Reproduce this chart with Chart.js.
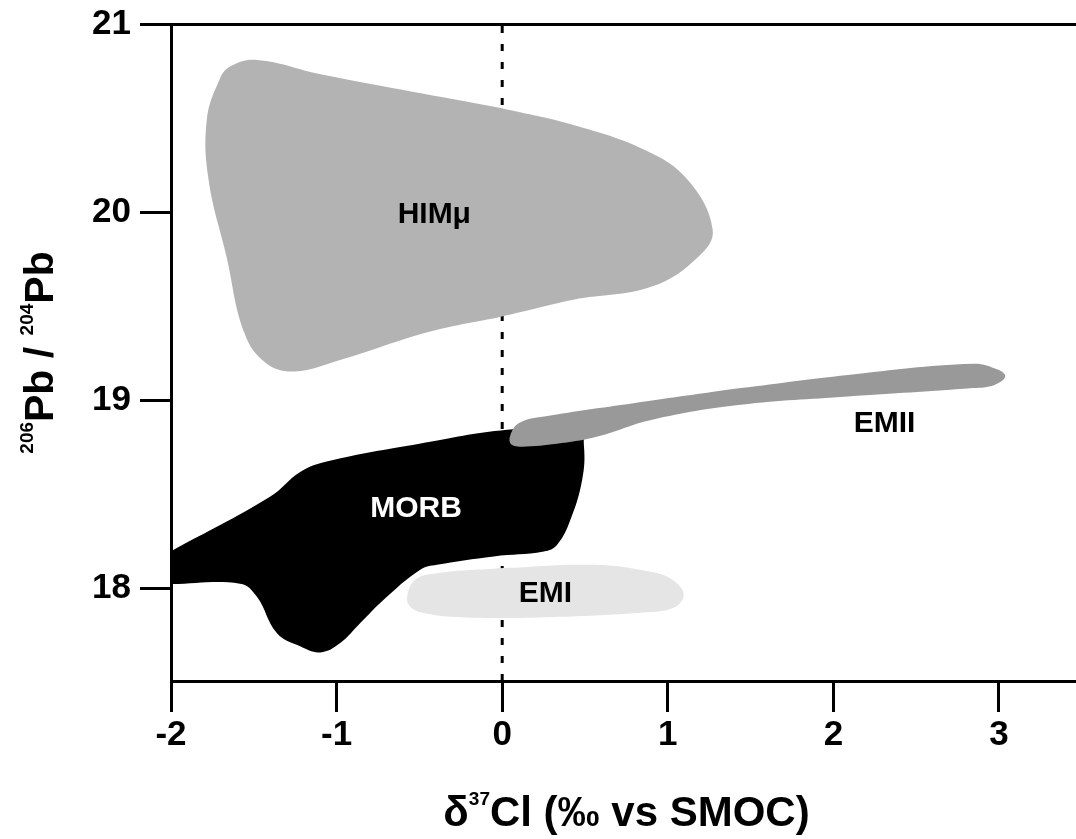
<!DOCTYPE html>
<html>
<head>
<meta charset="utf-8">
<script src="https://cdn.jsdelivr.net/npm/chart.js@4.4.1/dist/chart.umd.min.js"></script>
<style>
  html, body { margin: 0; padding: 0; background: #fff; }
  #wrap { width: 1076px; height: 839px; }
</style>
</head>
<body>
<div id="wrap"><canvas id="plot"></canvas></div>
<script>
const xTicks = [-2, -1, 0, 1, 2, 3];
const yTicks = [18, 19, 20, 21];
const xRange = [-2, 3.465];
const yRange = [17.51, 21];

// field outlines (x = d37Cl, y = 206Pb/204Pb)
const himuX = [-0.002, 0.430, 0.862, 1.120, 1.271, 1.186, 0.904, 0.430, -0.002, -0.434, -0.974, -1.255, -1.427, -1.557, -1.665, -1.773, -1.784, -1.708, -1.643, -1.481, -1.082, -0.002];
const himuY = [20.553, 20.464, 20.331, 20.172, 19.907, 19.765, 19.605, 19.535, 19.446, 19.366, 19.216, 19.154, 19.199, 19.358, 19.765, 20.172, 20.491, 20.703, 20.774, 20.809, 20.730, 20.553];

const morbX = [-2.0, -1.40, -1.22, -1.06, -0.5, 0.030, 0.461, 0.494, 0.483, 0.412, 0.332, 0.251, -0.051, -0.394, -0.495, -0.716, -0.857, -0.978, -1.099, -1.220, -1.361, -1.482, -1.583, -2.0, -2.0, -2.0];
const morbY = [18.199, 18.49, 18.62, 18.676, 18.77, 18.844, 18.850, 18.754, 18.579, 18.366, 18.234, 18.198, 18.172, 18.127, 18.101, 17.942, 17.818, 17.712, 17.662, 17.694, 17.765, 17.959, 18.027, 18.025, 18.025, 18.199];

const emiiX = [1.440, 2.088, 2.843, 2.995, 3.038, 2.973, 2.843, 2.088, 1.440, 0.900, 0.576, 0.360, 0.144, 0.058, 0.047, 0.102, 0.253, 0.793, 1.440];
const emiiY = [19.066, 19.136, 19.195, 19.163, 19.127, 19.083, 19.066, 19.021, 18.977, 18.897, 18.809, 18.774, 18.756, 18.765, 18.809, 18.880, 18.915, 18.986, 19.066];

const emiX = [0.009, 0.553, 0.896, 1.027, 1.096, 1.035, 0.836, 0.352, 0.007, -0.253, -0.454, -0.549, -0.575, -0.525, -0.394, 0.009];
const emiY = [18.110, 18.127, 18.090, 18.048, 17.968, 17.899, 17.873, 17.851, 17.844, 17.848, 17.867, 17.899, 17.952, 18.048, 18.083, 18.110];

const fieldNames = ['HIMμ', 'MORB', 'EMI', 'EMII'];
const nameX = [-0.41, -0.52, 0.261, 2.309];
const nameY = [20.0, 18.437, 17.987, 18.893];

const refX = 0;
const xTitle = ['δ', '37', 'Cl (‰ vs SMOC)'];
const yTitle = ['206', 'Pb / ', '204', 'Pb'];

const FONT = '"Liberation Sans", Arial, Helvetica, sans-serif';

function pts(xs, ys) {
  return xs.map((x, i) => ({ x: x, y: ys[i] }));
}

function field(label, xs, ys, colour, order) {
  return {
    label: label,
    data: pts(xs, ys),
    showLine: true,
    fill: 'shape',
    backgroundColor: colour,
    borderColor: colour,
    borderWidth: 0,
    pointRadius: 0,
    tension: 0.4,
    order: order
  };
}

// text with superscripts; supFirst says whether piece 0 is raised
function supText(ctx, parts, supFirst, x, y, size, supSize, raise) {
  const isSup = i => (i % 2 === 0) === supFirst;
  const font = i => 'bold ' + (isSup(i) ? supSize : size) + 'px ' + FONT;
  let total = 0;
  const w = parts.map((p, i) => { ctx.font = font(i); const m = ctx.measureText(p).width; total += m; return m; });
  let cx = x - total / 2;
  ctx.textAlign = 'left';
  ctx.textBaseline = 'alphabetic';
  parts.forEach((p, i) => {
    ctx.font = font(i);
    ctx.fillText(p, cx, isSup(i) ? y - raise : y);
    cx += w[i];
  });
}

const textPlugin = {
  id: 'textPlugin',
  afterDatasetsDraw(chart) {
    const { ctx, scales } = chart;
    ctx.save();
    ctx.textAlign = 'center';
    ctx.textBaseline = 'alphabetic';
    ctx.font = 'bold 30px ' + FONT;
    fieldNames.forEach((n, i) => {
      ctx.fillStyle = n === 'MORB' ? '#fff' : '#000';
      ctx.fillText(n, scales.x.getPixelForValue(nameX[i]), scales.y.getPixelForValue(nameY[i]) + 11);
    });
    ctx.restore();
  },
  afterDraw(chart) {
    const { ctx, chartArea } = chart;
    ctx.save();
    ctx.fillStyle = '#000';
    supText(ctx, xTitle, false, (chartArea.left + chartArea.right) / 2 + 3, 826, 42, 19, 21);
    ctx.translate(53, (chartArea.top + chartArea.bottom) / 2);
    ctx.rotate(-Math.PI / 2);
    supText(ctx, yTitle, true, 0, 0, 41, 19, 20);
    ctx.restore();
  }
};

const axisGrid = {
  drawOnChartArea: false,
  drawTicks: true,
  tickLength: 31,
  tickWidth: 3,
  tickColor: '#000'
};

new Chart(document.getElementById('plot'), {
  type: 'scatter',
  data: {
    datasets: [
      field('EMII', emiiX, emiiY, '#999999', 0),
      field('EMI', emiX, emiY, '#e5e5e5', 1),
      field('MORB', morbX, morbY, '#000000', 2),
      field('HIMμ', himuX, himuY, '#b3b3b3', 3),
      {
        label: 'zero',
        data: [{ x: refX, y: yRange[0] }, { x: refX, y: yRange[1] }],
        showLine: true,
        fill: false,
        borderColor: '#000',
        borderWidth: 3,
        borderDash: [7, 11],
        pointRadius: 0,
        order: 10
      }
    ]
  },
  options: {
    responsive: true,
    maintainAspectRatio: false,
    animation: false,
    layout: { padding: 0 },
    plugins: { legend: { display: false }, tooltip: { enabled: false } },
    scales: {
      x: {
        type: 'linear',
        position: 'bottom',
        min: xRange[0],
        max: xRange[1],
        afterBuildTicks: s => { s.ticks = xTicks.map(v => ({ value: v })); },
        afterFit: s => { s.height = 158; s.paddingLeft = 0; s.paddingRight = 0; },
        ticks: { color: '#000', padding: 2, maxRotation: 0, font: { family: FONT, size: 35, weight: 'bold' }, callback: v => String(v) },
        grid: axisGrid,
        border: { display: true, color: '#000', width: 3 }
      },
      xTop: {
        type: 'linear',
        position: 'top',
        min: xRange[0],
        max: xRange[1],
        afterFit: s => { s.height = 24; },
        ticks: { display: false },
        grid: { display: false },
        border: { display: true, color: '#000', width: 3 }
      },
      y: {
        type: 'linear',
        position: 'left',
        min: yRange[0],
        max: yRange[1],
        afterBuildTicks: s => { s.ticks = yTicks.map(v => ({ value: v })); },
        afterFit: s => { s.width = 171; s.paddingTop = 0; s.paddingBottom = 0; },
        ticks: { color: '#000', padding: 9, font: { family: FONT, size: 35, weight: 'bold' }, callback: v => String(v) },
        grid: axisGrid,
        border: { display: true, color: '#000', width: 3 }
      }
    }
  },
  plugins: [textPlugin]
});
</script>
</body>
</html>
